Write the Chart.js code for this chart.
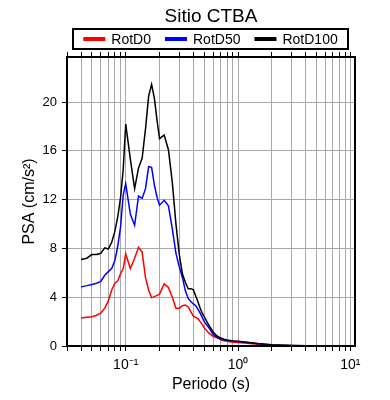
<!DOCTYPE html>
<html>
<head>
<meta charset="utf-8">
<script src="https://cdn.jsdelivr.net/npm/chart.js@4"></script>
<style>
  html, body { margin: 0; padding: 0; background: #fff; }
  #wrap { width: 390px; height: 400px; }
</style>
</head>
<body>
<div id="wrap"><canvas id="psa" width="390" height="400"></canvas></div>
<script>
// periodos (s) y espectros RotD
const periods = [0.04, 0.045, 0.05, 0.055, 0.06, 0.065, 0.07, 0.075, 0.08, 0.085,
  0.09, 0.095, 0.1, 0.11, 0.12, 0.13, 0.14, 0.15, 0.16, 0.17,
  0.18, 0.19, 0.2, 0.22, 0.24, 0.26, 0.28, 0.3, 0.32, 0.34,
  0.36, 0.38, 0.4, 0.42, 0.44, 0.46, 0.48, 0.5, 0.55, 0.6,
  0.65, 0.7, 0.75, 0.8, 0.9, 1.0, 1.2, 1.5, 2.0, 2.5,
  3.0, 4.0, 5.0, 7.5, 10];
const rotD0 = [2.3, 2.35, 2.4, 2.52, 2.7, 3.1, 3.7, 4.6, 5.15, 5.35,
  5.95, 6.35, 7.55, 6.35, 7.2, 8.1, 7.7, 5.6, 4.6, 3.95,
  4.05, 4.15, 4.25, 5.1, 4.8, 4.0, 3.1, 3.1, 3.3, 3.36,
  3.2, 2.8, 2.45, 2.35, 2.25, 2.0, 1.75, 1.5, 1.05, 0.8,
  0.68, 0.5, 0.42, 0.38, 0.3, 0.28, 0.22, 0.14, 0.07, 0.05,
  0.03, 0.02, 0.015, 0.01, 0.01];
const rotD50 = [4.85, 4.95, 5.05, 5.15, 5.3, 5.8, 6.1, 6.35, 7.0, 8.2,
  9.8, 12.4, 13.3, 10.8, 9.9, 12.3, 12.1, 12.9, 14.7, 14.65,
  13.2, 12.2, 11.55, 11.95, 11.5, 9.6, 7.6, 6.5, 5.6, 4.5,
  3.9, 3.65, 3.45, 3.3, 3.0, 2.7, 2.35, 2.0, 1.5, 0.95,
  0.72, 0.6, 0.5, 0.45, 0.4, 0.36, 0.28, 0.18, 0.09, 0.06,
  0.04, 0.03, 0.02, 0.015, 0.01];
const rotD100 = [7.1, 7.2, 7.5, 7.5, 7.6, 8.05, 7.95, 8.5, 9.4, 10.6,
  12.2, 14.5, 18.2, 15.3, 12.9, 14.6, 15.4, 17.8, 20.5, 21.45,
  20.3, 18.5, 17.0, 17.3, 16.1, 13.4, 10.0, 7.5, 5.9, 5.2,
  4.7, 4.7, 4.6, 4.1, 3.6, 3.1, 2.7, 2.4, 1.7, 1.15,
  0.82, 0.65, 0.55, 0.49, 0.42, 0.38, 0.3, 0.2, 0.1, 0.07,
  0.05, 0.03, 0.02, 0.015, 0.01];

const seriesLabels = ['RotD0', 'RotD50', 'RotD100'];
const seriesColors = ['#ff0000', '#0000ff', '#000000'];
const yTicks = [0, 4, 8, 12, 16, 20];
const decades = [0.01, 0.1, 1, 10];
const decadeLabels = { '0.1': '10\u207B\u00B9', '1': '10\u2070', '10': '10\u00B9' };

const X_MIN = 0.03, X_MAX = 11, Y_MAX = 23.7;
const FONT = '"Liberation Sans", Arial, Helvetica, sans-serif';

// ticks menores del eje log: 1..9 por decada
const logTicks = [];
decades.forEach(d => {
  for (let k = 1; k <= 9; k++) {
    const v = +(k * d).toPrecision(3);
    if (v >= X_MIN && v <= X_MAX) logTicks.push(v);
  }
});

function toPoints(values) {
  return periods.map((p, i) => ({ x: p, y: values[i] }));
}

const seriesValues = [rotD0, rotD50, rotD100];
const datasets = seriesLabels.map((label, i) => ({
  label: label,
  data: toPoints(seriesValues[i]),
  borderColor: seriesColors[i],
  backgroundColor: seriesColors[i],
  borderWidth: 1.5,
  pointRadius: 0,
  tension: 0,
  order: 3 - i
}));

// titulo + leyenda con recuadro, y marco del grafico
const decorPlugin = {
  id: 'decor',
  afterDraw(chart) {
    const ctx = chart.ctx;
    const area = chart.chartArea;
    const cx = (area.left + area.right) / 2;
    ctx.save();

    ctx.strokeStyle = '#000';
    ctx.lineWidth = 2;
    ctx.strokeRect(area.left, area.top, area.right - area.left, area.bottom - area.top);

    ctx.fillStyle = '#000';
    ctx.textAlign = 'center';
    ctx.textBaseline = 'alphabetic';
    ctx.font = '19px ' + FONT;
    ctx.fillText('Sitio CTBA', cx, 22);

    const boxL = 73, boxT = 29, boxW = 275, boxH = 20;
    ctx.lineWidth = 2;
    ctx.strokeRect(boxL, boxT, boxW, boxH);

    ctx.font = '14px ' + FONT;
    const lineLen = 22, gapText = 6, gapItem = 14;
    const widths = seriesLabels.map(t => ctx.measureText(t).width);
    let total = widths.reduce((a, w) => a + lineLen + gapText + w, 0) + gapItem * (seriesLabels.length - 1);
    let x = boxL + boxW / 2 - total / 2;
    const yMid = boxT + boxH / 2;
    ctx.textAlign = 'left';
    ctx.textBaseline = 'middle';
    seriesLabels.forEach((t, i) => {
      ctx.strokeStyle = seriesColors[i];
      ctx.lineWidth = 4;
      ctx.beginPath();
      ctx.moveTo(x, yMid);
      ctx.lineTo(x + lineLen, yMid);
      ctx.stroke();
      ctx.fillStyle = '#000';
      ctx.fillText(t, x + lineLen + gapText, yMid + 1);
      x += lineLen + gapText + widths[i] + gapItem;
    });
    ctx.restore();
  }
};

function logAxis(position) {
  const top = position === 'top';
  return {
    type: 'logarithmic',
    position: position,
    min: X_MIN,
    max: X_MAX,
    afterBuildTicks(scale) {
      scale.ticks = logTicks.map(v => ({ value: v }));
    },
    afterFit(scale) { scale.height = top ? 6 : 54; },
    ticks: {
      display: !top,
      autoSkip: false,
      maxRotation: 0,
      padding: 6,
      color: '#000',
      font: { family: FONT, size: 14 },
      callback: (v) => decadeLabels[String(v)] || ''
    },
    grid: {
      drawOnChartArea: !top,
      color: '#a8a8a8',
      lineWidth: 1,
      tickColor: '#000',
      tickLength: 5
    },
    border: { display: false },
    title: {
      display: !top,
      text: 'Periodo (s)',
      color: '#000',
      font: { family: FONT, size: 16 },
      padding: { top: 0, bottom: 6 }
    }
  };
}

new Chart(document.getElementById('psa').getContext('2d'), {
  type: 'line',
  data: { datasets: datasets },
  options: {
    responsive: false,
    animation: false,
    devicePixelRatio: 1,
    layout: { padding: { top: 51, right: 35, left: 16, bottom: 0 } },
    plugins: {
      legend: { display: false },
      title: { display: false },
      tooltip: { enabled: false }
    },
    scales: {
      x: logAxis('bottom'),
      xTop: logAxis('top'),
      y: {
        type: 'linear',
        min: 0,
        max: Y_MAX,
        afterBuildTicks(scale) {
          scale.ticks = yTicks.map(v => ({ value: v }));
        },
        afterFit(scale) { scale.width = 51; },
        ticks: {
          padding: 5,
          color: '#000',
          font: { family: FONT, size: 13 }
        },
        grid: {
          color: '#a8a8a8',
          lineWidth: 1,
          tickColor: '#000',
          tickLength: 5
        },
        border: { display: false },
        title: {
          display: true,
          text: 'PSA (cm/s\u00B2)',
          color: '#000',
          font: { family: FONT, size: 16 },
          padding: { top: 4, bottom: 4 }
        }
      }
    }
  },
  plugins: [decorPlugin]
});
</script>
</body>
</html>
